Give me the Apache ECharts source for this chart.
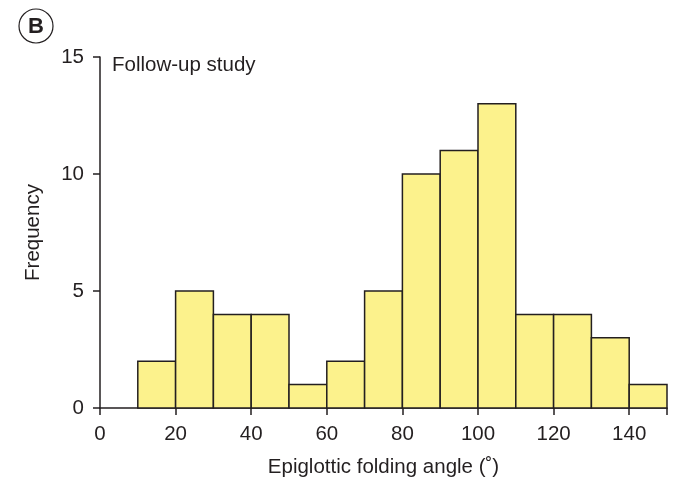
<!DOCTYPE html>
<html>
<head>
<meta charset="utf-8">
<script src="https://cdn.jsdelivr.net/npm/echarts@6/dist/echarts.min.js"></script>
<style>
  html, body { margin: 0; padding: 0; background: #fff; }
  #chart { width: 686px; height: 478px; }
</style>
</head>
<body>
<div id="chart"></div>
<script>
// histogram bins (degrees) and counts
var binStarts = [10, 20, 30, 40, 50, 60, 70, 80, 90, 100, 110, 120, 130, 140];
var binWidth = 10;
var counts = [2, 5, 4, 4, 1, 2, 5, 10, 11, 13, 4, 4, 3, 1];
var xTicks = [0, 20, 40, 60, 80, 100, 120, 140];

var ink = '#231f20';
var fontFam = '"Liberation Sans", Arial, Helvetica, sans-serif';
var fs = 20.5;

var binData = binStarts.map(function (s, i) {
    return [s, s + binWidth, counts[i]];
});

var chart = echarts.init(document.getElementById('chart'));

var option = {
    backgroundColor: '#fff',
    animation: false,
    grid: { left: 100, right: 19, top: 57, bottom: 70, outerBoundsMode: 'none', containLabel: false },
    xAxis: {
        type: 'value',
        min: 0,
        max: 150,
        interval: 20,
        name: 'Epiglottic folding angle (\u02da)',
        nameLocation: 'middle',
        nameGap: 49,
        nameTextStyle: { color: ink, fontSize: fs, fontFamily: fontFam },
        axisLine: { lineStyle: { color: ink, width: 1.5 } },
        axisTick: { show: true, length: 7, lineStyle: { color: ink, width: 1.5 } },
        axisLabel: {
            color: ink, fontSize: fs, fontFamily: fontFam, margin: 16,
            formatter: function (v) { return xTicks.indexOf(v) >= 0 ? String(v) : ''; }
        },
        splitLine: { show: false }
    },
    yAxis: {
        type: 'value',
        min: 0,
        max: 15,
        interval: 5,
        name: 'Frequency',
        nameLocation: 'middle',
        nameGap: 56,
        nameTextStyle: { color: ink, fontSize: fs, fontFamily: fontFam },
        axisLine: { show: true, lineStyle: { color: ink, width: 1.5 } },
        axisTick: { show: true, length: 7, lineStyle: { color: ink, width: 1.5 } },
        axisLabel: { color: ink, fontSize: fs, fontFamily: fontFam, margin: 16 },
        splitLine: { show: false }
    },
    graphic: [
        {
            type: 'circle',
            shape: { cx: 36, cy: 26, r: 17 },
            style: { fill: '#fff', stroke: ink, lineWidth: 1.2 }
        },
        {
            type: 'text',
            x: 36, y: 27,
            style: {
                text: 'B', fill: ink, fontSize: 22, fontWeight: 'bold',
                fontFamily: fontFam, align: 'center', verticalAlign: 'middle'
            }
        },
        {
            type: 'text',
            x: 112, y: 65,
            style: {
                text: 'Follow-up study', fill: ink, fontSize: fs,
                fontFamily: fontFam, verticalAlign: 'middle'
            }
        }
    ],
    series: [{
        type: 'custom',
        data: binData,
        encode: { x: [0, 1], y: 2 },
        renderItem: function (params, api) {
            var p0 = api.coord([api.value(0), api.value(2)]);
            var p1 = api.coord([api.value(1), 0]);
            return {
                type: 'rect',
                shape: { x: p0[0], y: p0[1], width: p1[0] - p0[0], height: p1[1] - p0[1] },
                style: { fill: '#fcf28c', stroke: ink, lineWidth: 1.5 }
            };
        }
    }]
};

chart.setOption(option);
</script>
</body>
</html>
